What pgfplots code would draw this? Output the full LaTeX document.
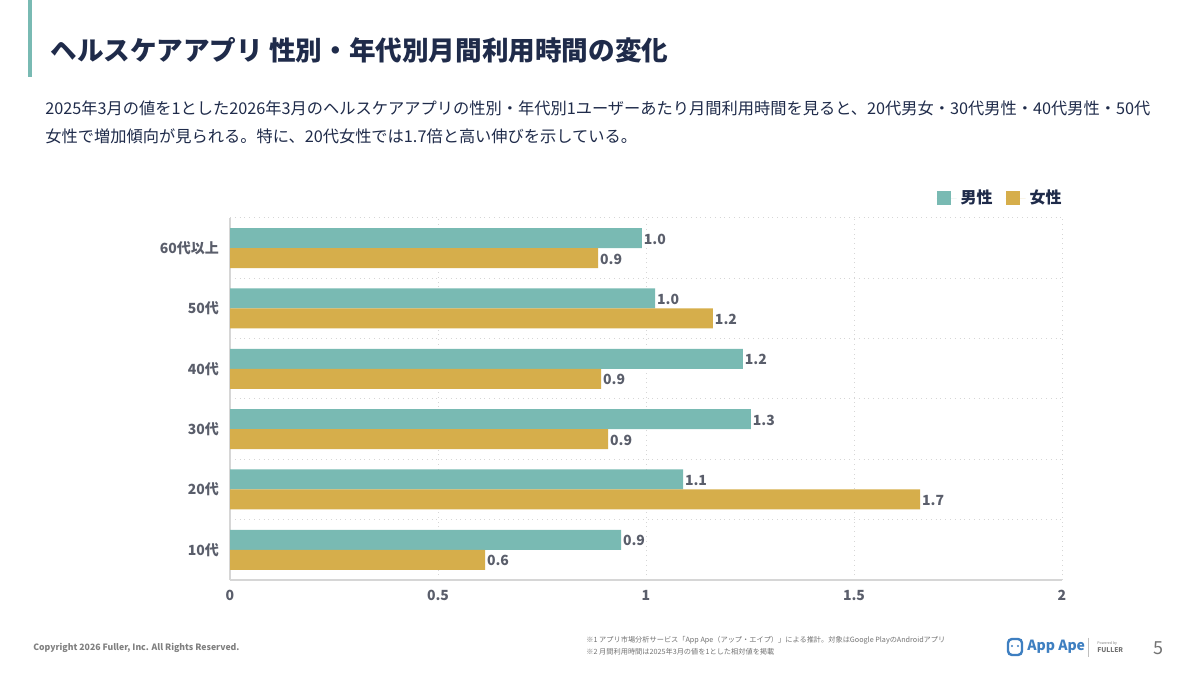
\documentclass[border=0pt]{standalone}
\usepackage{fontspec}
\setmainfont{Noto Sans CJK JP}
\usepackage{pgfplots}
\pgfplotsset{compat=1.18}
\definecolor{teal1}{HTML}{79BAB3}
\definecolor{gold1}{HTML}{D6AE4B}
\definecolor{navy}{HTML}{1F2B4A}
\definecolor{tickc}{HTML}{5A5E6B}
\definecolor{gridc}{HTML}{D6D6D6}
\definecolor{appblue}{HTML}{3E7FC1}
\begin{document}
\begin{tikzpicture}
\begin{scope}[yshift=337.5pt,x=0.5pt,y=-0.5pt]
\useasboundingbox (0,0) rectangle (1200,675);
\fill[white] (0,0) rectangle (1200,675);
\fill[teal1] (28,0) rectangle (32,77);
\node[anchor=west, font=\fontsize{13.3}{15}\selectfont\bfseries, text=navy, inner sep=0] at (50,50) {ヘルスケアアプリ 性別・年代別月間利用時間の変化};
\node[anchor=west, font=\fontsize{8.12}{10}\selectfont, text=navy, inner sep=0] at (45,108) {2025年3月の値を1とした2026年3月のヘルスケアアプリの性別・年代別1ユーザーあたり月間利用時間を見ると、20代男女・30代男性・40代男性・50代};
\node[anchor=west, font=\fontsize{8.12}{10}\selectfont, text=navy, inner sep=0] at (45,136) {女性で増加傾向が見られる。特に、20代女性では1.7倍と高い伸びを示している。};
\node[anchor=west, font=\fontsize{4.35}{5}\selectfont\bfseries, text=black!50, inner sep=0] at (33,648) {Copyright 2026 Fuller, Inc. All Rights Reserved.};
\node[anchor=west, font=\fontsize{3.6}{4.5}\selectfont, text=black!55, inner sep=0] at (586,640) {※1 アプリ市場分析サービス「App Ape（アップ・エイプ）」による推計。対象はGoogle PlayのAndroidアプリ};
\node[anchor=west, font=\fontsize{3.6}{4.5}\selectfont, text=black!55, inner sep=0] at (586,652) {※2 月間利用時間は2025年3月の値を1とした相対値を掲載};
\draw[appblue, line width=1.2pt, rounded corners=2pt] (1008,639) rectangle (1022,655);
\fill[appblue] (1012,646) circle (1.2) (1018,646) circle (1.2);
\node[anchor=west, font=\fontsize{7}{9}\selectfont\bfseries, text=appblue, inner sep=0] at (1027,647) {App Ape};
\draw[black!25, line width=0.4pt] (1088,638) -- (1088,657);
\node[anchor=west, font=\fontsize{1.8}{2}\selectfont, text=black!50, inner sep=0] at (1097,643) {Powered by};
\node[anchor=west, font=\fontsize{3.3}{4}\selectfont\bfseries, text=black!55, inner sep=0] at (1097,650) {FULLER};
\node[font=\fontsize{9}{10}\selectfont, text=black!55, inner sep=0] at (1158,648) {5};
\end{scope}
\begin{axis}[
  at={(115pt,47.5pt)}, anchor=south west,
  scale only axis, width=416pt, height=181pt,
  xmin=0, xmax=2, ymin=-0.5, ymax=5.5,
  xbar, bar width=10pt,
  xtick={0,0.5,1,1.5,2},
  ytick={0,1,2,3,4,5},
  yticklabels={10代,20代,30代,40代,50代,60代以上},
  minor ytick={0.5,1.5,2.5,3.5,4.5,5.5},
  xmajorgrids, yminorgrids,
  major grid style={gridc, dotted, line width=0.5pt},
  minor grid style={gridc, dotted, line width=0.5pt},
  axis x line*=bottom, axis y line*=left,
  axis line style={gridc, line width=0.6pt},
  major tick length=0pt, minor tick length=0pt,
  /pgf/number format/assume math mode=true,
  tick label style={font=\fontsize{7}{8}\selectfont\bfseries, text=tickc},
  yticklabel style={xshift=-2pt},
  xticklabel style={yshift=-1.5pt},
  point meta=x,
  nodes near coords={\pgfmathprintnumber[fixed,fixed zerofill,precision=1]{\pgfplotspointmeta}},
  every node near coord/.append style={font=\fontsize{7}{8}\selectfont\bfseries, text=tickc, anchor=west, inner sep=0.8pt, yshift=-0.5pt},
  legend style={at={(rel axis cs:1,1)}, anchor=south east, yshift=1.5pt, xshift=5pt, draw=none, fill=none, legend columns=2,
     font=\fontsize{8}{9}\selectfont\bfseries, text=navy,
     /tikz/every even column/.append style={column sep=4.5pt}},
  legend image code/.code={\fill[#1] (0pt,-3.5pt) rectangle (7pt,3.5pt); \path (0pt,0pt) -- (10pt,0pt);},
]
\addplot[fill=teal1, draw=none, bar shift=5pt] coordinates {
(0.940,0) (1.089,1) (1.252,2) (1.233,3) (1.022,4) (0.990,5)};
\addlegendentry{男性}
\addplot[fill=gold1, draw=none, bar shift=-5pt] coordinates {
(0.613,0) (1.659,1) (0.909,2) (0.892,3) (1.161,4) (0.885,5)};
\addlegendentry{女性}
\end{axis}
\end{tikzpicture}
\end{document}
